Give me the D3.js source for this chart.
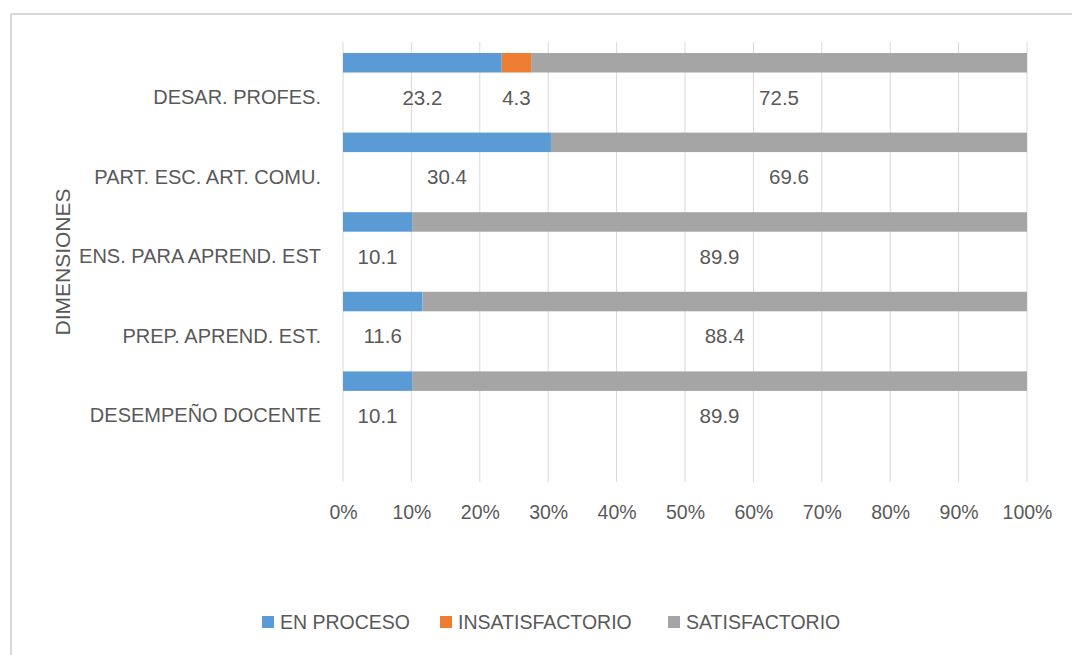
<!DOCTYPE html>
<html><head><meta charset="utf-8">
<script src="https://cdn.jsdelivr.net/npm/d3@7"></script>
<style>
html,body{margin:0;padding:0;background:#fff;}
text{font-family:"Liberation Sans",Arial,sans-serif;fill:#595959;}
</style></head>
<body><svg id="c" width="1072" height="655"></svg>
<script>
const categories = ["DESAR. PROFES.", "PART. ESC. ART. COMU.", "ENS. PARA APREND. EST", "PREP. APREND. EST.", "DESEMPEÑO DOCENTE"];
const seriesNames = ["EN PROCESO", "INSATISFACTORIO", "SATISFACTORIO"];
const enProceso = [23.2, 30.4, 10.1, 11.6, 10.1];
const insatisfactorio = [4.3, 0, 0, 0, 0];
const satisfactorio = [72.5, 69.6, 89.9, 88.4, 89.9];
const tickValues = [0, 0.1, 0.2, 0.3, 0.4, 0.5, 0.6, 0.7, 0.8, 0.9, 1.0];
const colors = ["#5b9bd5", "#ed7d31", "#a5a5a5"];

const svg = d3.select("#c");
// chart border (top and left visible)
svg.append("line").attr("x1", 11).attr("x2", 1072).attr("y1", 14).attr("y2", 14).attr("stroke", "#d9d9d9").attr("stroke-width", 2);
svg.append("line").attr("x1", 11).attr("x2", 11).attr("y1", 14).attr("y2", 655).attr("stroke", "#d9d9d9").attr("stroke-width", 2);

const plot = {left: 343, right: 1027, top: 42, bottom: 482};
const x = d3.scaleLinear().domain([0, 1]).range([plot.left, plot.right]);
const y = d3.scaleBand().domain(categories).range([plot.top, plot.top + 5 * 79.6]);

// gridlines
svg.append("g").selectAll("line").data(tickValues).join("line")
  .attr("x1", d => x(d)).attr("x2", d => x(d))
  .attr("y1", plot.top).attr("y2", plot.bottom)
  .attr("stroke", "#d9d9d9").attr("stroke-width", 1);

// x axis labels
const xAxis = d3.axisBottom(x).tickValues(tickValues).tickFormat(d3.format(".0%")).tickSize(0).tickPadding(0);
const gx = svg.append("g").attr("transform", `translate(0,${plot.bottom + 23})`).call(xAxis);
gx.select(".domain").remove();
gx.selectAll("text").attr("font-size", 19.5).attr("fill", "#595959").attr("font-family", '"Liberation Sans",Arial,sans-serif');

// data table
const rows = categories.map((c, i) => ({cat: c, "EN PROCESO": enProceso[i], "INSATISFACTORIO": insatisfactorio[i], "SATISFACTORIO": satisfactorio[i]}));
const stacked = d3.stack().keys(seriesNames)(rows);

const barOff = 11, barH = 19.5, labelOff = 55;
stacked.forEach((s, si) => {
  const g = svg.append("g");
  g.selectAll("rect").data(s).join("rect")
    .attr("x", d => x(d[0] / 100))
    .attr("width", d => x(d[1] / 100) - x(d[0] / 100))
    .attr("y", d => y(d.data.cat) + barOff)
    .attr("height", barH)
    .attr("fill", colors[si]);
  g.selectAll("text").data(s.filter(d => d[1] - d[0] > 0)).join("text")
    .attr("x", d => x((d[0] + d[1]) / 200))
    .attr("y", d => y(d.data.cat) + labelOff)
    .attr("text-anchor", "middle").attr("dominant-baseline", "central")
    .attr("font-size", 20.5)
    .text(d => d3.format(".1f")(d[1] - d[0]));
});

// category labels
svg.append("g").selectAll("text").data(categories).join("text")
  .attr("x", 321).attr("y", d => y(d) + labelOff)
  .attr("text-anchor", "end").attr("dominant-baseline", "central")
  .attr("font-size", 20)
  .text(d => d);

// axis title
svg.append("text").attr("transform", "translate(62,262) rotate(-90)")
  .attr("text-anchor", "middle").attr("dominant-baseline", "central")
  .attr("font-size", 21).text("DIMENSIONES");

// legend
const legendX = [262, 440, 668];
const lg = svg.append("g").selectAll("g").data(seriesNames).join("g")
  .attr("transform", (d, i) => `translate(${legendX[i]},622)`);
lg.append("rect").attr("x", 0).attr("y", -6).attr("width", 12).attr("height", 12).attr("fill", (d, i) => colors[i]);
lg.append("text").attr("x", 18).attr("y", 0).attr("dominant-baseline", "central").attr("font-size", 19.5).text(d => d);
</script></body></html>
